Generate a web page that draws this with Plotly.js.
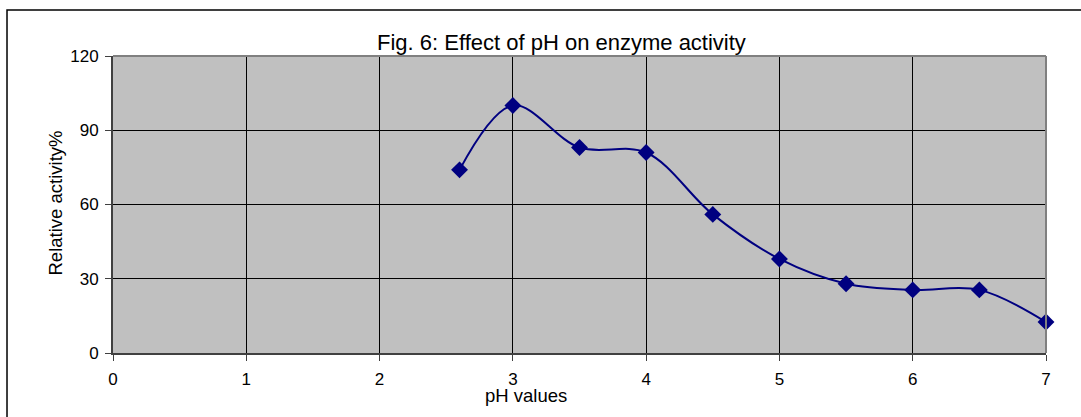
<!DOCTYPE html>
<html>
<head>
<meta charset="utf-8">
<script src="https://cdn.plot.ly/plotly-3.0.1.min.js"></script>
<style>
html,body{margin:0;padding:0;background:#fff;}
#chart{width:1081px;height:417px;}
</style>
</head>
<body>
<div id="chart"></div>
<script>
const phValues = [2.6, 3, 3.5, 4, 4.5, 5, 5.5, 6, 6.5, 7];
const relativeActivity = [74, 100, 83, 81, 56, 38, 28, 25.5, 25.5, 12.5];
const xTicks = [0, 1, 2, 3, 4, 5, 6, 7];
const yTicks = [0, 30, 60, 90, 120];
const chartTitle = "Fig. 6: Effect of pH on enzyme activity";
const xTitle = "pH values";
const yTitle = "Relative activity%";

const font = "Liberation Sans, Arial, sans-serif";

const trace = {
  x: phValues,
  y: relativeActivity,
  type: "scatter",
  mode: "lines+markers",
  cliponaxis: false,
  line: {color: "#000080", width: 2, shape: "spline", smoothing: 1},
  marker: {symbol: "diamond", size: 13, color: "#000080"},
  hoverinfo: "x+y"
};

const layout = {
  width: 1081,
  height: 417,
  margin: {l: 113, r: 35, t: 56, b: 64},
  paper_bgcolor: "#ffffff",
  plot_bgcolor: "#c0c0c0",
  showlegend: false,
  font: {family: font, size: 16, color: "#000"},
  xaxis: {
    range: [0, 7],
    tickvals: xTicks,
    ticktext: xTicks.map(String),
    showgrid: true,
    gridcolor: "#000000",
    gridwidth: 1,
    zeroline: false,
    showline: true,
    linecolor: "#404040",
    linewidth: 2,
    ticks: "outside",
    ticklen: 6,
    tickwidth: 1,
    tickcolor: "#404040",
    ticklabelstandoff: 4,
    tickfont: {family: font, size: 17, color: "#000"}
  },
  yaxis: {
    range: [0, 120],
    tickvals: yTicks,
    ticktext: yTicks.map(String),
    showgrid: true,
    gridcolor: "#000000",
    gridwidth: 1,
    zeroline: false,
    showline: true,
    linecolor: "#404040",
    linewidth: 2,
    ticks: "outside",
    ticklen: 6,
    tickwidth: 1,
    tickcolor: "#404040",
    ticklabelstandoff: 3,
    tickfont: {family: font, size: 17, color: "#000"}
  },
  shapes: [
    {type: "line", xref: "paper", yref: "paper", x0: 0, x1: 1, y0: 1, y1: 1,
     line: {color: "#808080", width: 2}},
    {type: "line", xref: "paper", yref: "paper", x0: 1, x1: 1, y0: 0, y1: 1,
     line: {color: "#808080", width: 2}},
    {type: "rect", xref: "paper", yref: "paper", x0: -0.1136, x1: 1.05, y0: -0.24, y1: 1.1549,
     line: {color: "#000000", width: 1.5}, fillcolor: "rgba(0,0,0,0)", layer: "below"}
  ],
  annotations: [
    {text: chartTitle, xref: "paper", yref: "paper", x: (561.5 - 113) / 933, y: (353 - 42) / 297,
     xanchor: "center", yanchor: "middle", showarrow: false,
     font: {family: font, size: 22, color: "#000"}},
    {text: xTitle, xref: "paper", yref: "paper", x: (526 - 113) / 933, y: (353 - 395) / 297,
     xanchor: "center", yanchor: "middle", showarrow: false,
     font: {family: font, size: 18.5, color: "#000"}},
    {text: yTitle, xref: "paper", yref: "paper", x: (55 - 113) / 933, y: (353 - 203.5) / 297,
     xanchor: "center", yanchor: "middle", textangle: -90, showarrow: false,
     font: {family: font, size: 18.5, color: "#000"}}
  ]
};

Plotly.newPlot("chart", [trace], layout, {displayModeBar: false, staticPlot: true});
</script>
</body>
</html>
